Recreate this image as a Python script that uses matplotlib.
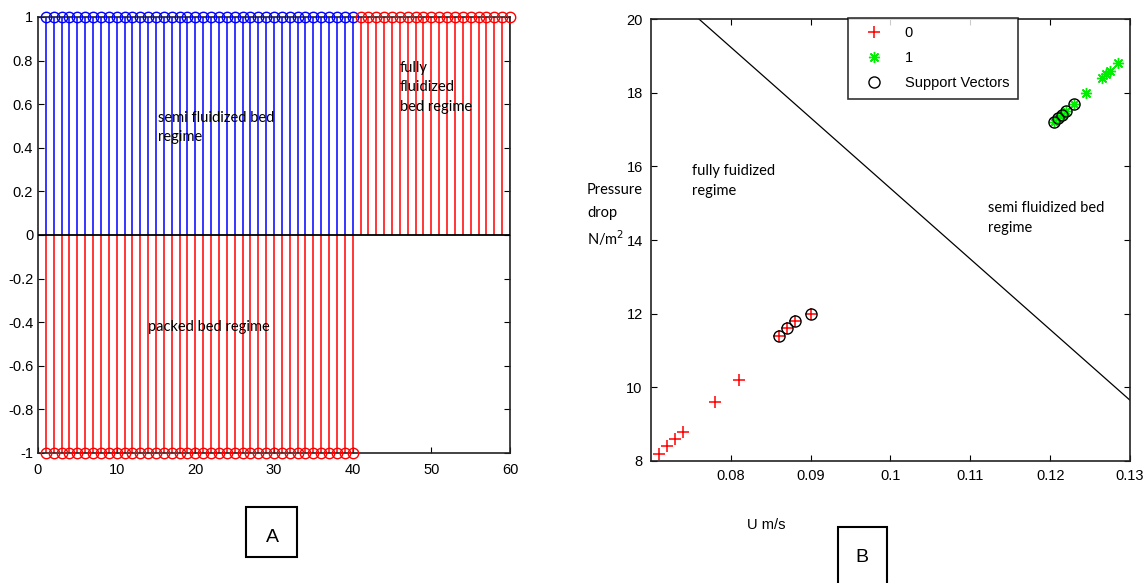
import matplotlib
matplotlib.use("Agg")
import matplotlib.pyplot as plt
import numpy as np
from matplotlib.patches import Rectangle

# Panel A data
x_semi = list(range(1, 41))
y_semi = [1] * 40
x_packed = list(range(1, 41))
y_packed = [-1] * 40
x_fully = list(range(41, 61))
y_fully = [1] * 20

# Panel B data
u_class0 = [0.071, 0.072, 0.073, 0.074, 0.078, 0.081, 0.086, 0.087, 0.088, 0.090]
p_class0 = [8.2, 8.4, 8.6, 8.8, 9.6, 10.2, 11.4, 11.6, 11.8, 12.0]
u_class1 = [0.1205, 0.121, 0.1215, 0.122, 0.123, 0.1245, 0.1265, 0.127, 0.1275, 0.1285]
p_class1 = [17.2, 17.3, 17.4, 17.5, 17.7, 18.0, 18.4, 18.5, 18.6, 18.8]
u_sv = [0.086, 0.087, 0.088, 0.090, 0.1205, 0.121, 0.1215, 0.122, 0.123]
p_sv = [11.4, 11.6, 11.8, 12.0, 17.2, 17.3, 17.4, 17.5, 17.7]
u_boundary = [0.076, 0.13]
p_boundary = [20.0, 9.65]

W, H = 1148, 583
fig = plt.figure(figsize=(W / 100, H / 100), dpi=100)

annfont = "Lato"

def ax_rect(x0, y0, x1, y1):
    return [x0 / W, 1 - y1 / H, (x1 - x0) / W, (y1 - y0) / H]

# Panel A
axA = fig.add_axes(ax_rect(38, 17, 510, 453))
axA.axhline(0, color="black", linewidth=1.3, zorder=3)
for xs, ys, col in [(x_semi, y_semi, "blue"), (x_packed, y_packed, "red"), (x_fully, y_fully, "red")]:
    ml, sl, bl = axA.stem(xs, ys)
    plt.setp(sl, color=col, linewidth=1.1)
    plt.setp(ml, color=col, markerfacecolor="none", markersize=7.5, markeredgewidth=1, clip_on=False, zorder=4)
    bl.set_visible(False)
axA.set_xlim(0, 60)
axA.set_ylim(-1, 1)
axA.set_xticks(range(0, 61, 10))
axA.set_yticks(np.round(np.arange(-1, 1.01, 0.2), 1))
axA.set_yticklabels(["-1", "-0.8", "-0.6", "-0.4", "-0.2", "0", "0.2", "0.4", "0.6", "0.8", "1"])
axA.tick_params(direction="in", length=4, labelsize=10.5, top=False, right=True)
axA.tick_params(axis="x", pad=7)
for lab in axA.get_xticklabels() + axA.get_yticklabels():
    lab.set_family("Liberation Sans")
for s in axA.spines.values():
    s.set_linewidth(1.2)
    s.set_color("#222222")
axA.text(15.3, 0.57, "semi fluidized bed\nregime", fontsize=10.5, family=annfont, va="top", linespacing=1.5)
axA.text(46.0, 0.8, "fully\nfluidized\nbed regime", fontsize=10.5, family=annfont, va="top", linespacing=1.5)
axA.text(14.0, -0.42, "packed bed regime", fontsize=10.5, family=annfont, va="center")

# Panel B
axB = fig.add_axes(ax_rect(651, 19, 1130, 461))
axB.plot(u_boundary, p_boundary, color="black", linewidth=0.9)
axB.plot(u_class0, p_class0, linestyle="none", marker="+", color="red", markersize=9, markeredgewidth=1.1, label="0")
axB.plot(u_class1, p_class1, linestyle="none", marker=(8, 2, 0), color="#00ee00", markersize=8, markeredgewidth=1.0, label="1")
axB.plot(u_sv, p_sv, linestyle="none", marker="o", markerfacecolor="none", markeredgecolor="black",
         markersize=8, markeredgewidth=1, label="Support Vectors")
axB.set_xlim(0.07, 0.13)
axB.set_ylim(8, 20)
axB.set_xticks([0.08, 0.09, 0.1, 0.11, 0.12, 0.13])
axB.set_xticklabels(["0.08", "0.09", "0.1", "0.11", "0.12", "0.13"])
axB.set_yticks([8, 10, 12, 14, 16, 18, 20])
axB.tick_params(direction="in", length=4, labelsize=10.5, top=True, right=True, pad=6)
for lab in axB.get_xticklabels() + axB.get_yticklabels():
    lab.set_family("Liberation Sans")
for s in axB.spines.values():
    s.set_linewidth(1.2)
    s.set_color("#222222")
leg = axB.legend(loc="upper left", bbox_to_anchor=((848 - 651) / 479, 1.003), frameon=True, fancybox=False,
                 edgecolor="black", borderpad=0.6, handletextpad=1.0, handlelength=2.3, labelspacing=0.75,
                 borderaxespad=0, prop=dict(family="Liberation Sans", size=10.5))
leg.get_frame().set_linewidth(1.2)
axB.text(0.0751, 16.05, "fully fuidized\nregime", fontsize=10.5, family=annfont, va="top", linespacing=1.5)
axB.text(0.1122, 15.05, "semi fluidized bed\nregime", fontsize=10.5, family=annfont, va="top", linespacing=1.5)

fig.text(587 / W, 1 - 190 / H, "Pressure", fontsize=10.5, family=annfont, va="center")
fig.text(587 / W, 1 - 213 / H, "drop", fontsize=10.5, family=annfont, va="center")
fig.text(587 / W, 1 - 238 / H, "N/m$^2$", fontsize=10.5, family=annfont, va="center")
fig.text(747 / W, 1 - 525 / H, "U m/s", fontsize=10.5, family="Liberation Sans", va="center")

# Boxes A and B
fig.patches.append(Rectangle((246 / W, 1 - 557 / H), 51 / W, 50 / H, transform=fig.transFigure,
                             fill=True, facecolor="white", edgecolor="black", linewidth=1.5))
fig.text(272 / W, 1 - 537 / H, "A", fontsize=14, family="Liberation Sans", ha="center", va="center")
fig.patches.append(Rectangle((838 / W, 1 - 585 / H), 49 / W, 58 / H, transform=fig.transFigure,
                             fill=True, facecolor="white", edgecolor="black", linewidth=1.5, zorder=5))
fig.text(862 / W, 1 - 558 / H, "B", fontsize=14, family="Liberation Sans", ha="center", va="center", zorder=6)

fig.savefig("out.png", dpi=100)
